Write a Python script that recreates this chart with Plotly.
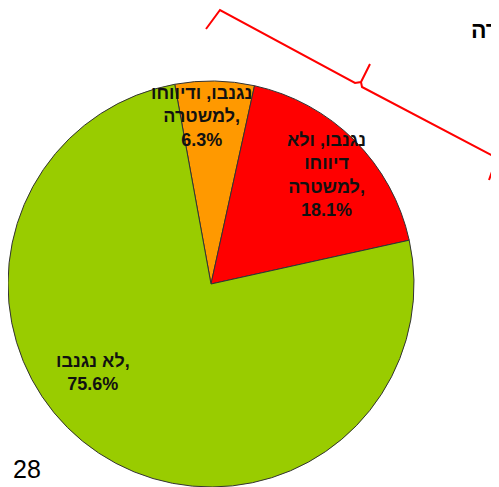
import plotly.graph_objects as go

# ---- data ----
labels = ["נגנבו, ודיווחו למשטרה", "נגנבו, ולא דיווחו למשטרה", "לא נגנבו"]
values = [6.3, 18.1, 75.6]
colors = ["#FF9900", "#FF0000", "#99CC00"]
label_lines = [
    ["נגנבו, ודיווחו", "למשטרה,", "6.3%"],
    ["נגנבו, ולא", "דיווחו", "למשטרה,", "18.1%"],
    ["לא נגנבו,", "75.6%"],
]
title_fragment = "רה"
page_number = "28"

# ---- layout helpers ----
# page body has an 8px margin; positions below are given in page pixels
OFF = 8
W, H = 499 - OFF, 487 - OFF
def px(x, y):
    return (x - OFF) / W, 1 - (y - OFF) / H

label_pos = [(201, 117), (326, 175), (93, 372)]

R = 203
fig = go.Figure(go.Pie(
    labels=labels,
    values=values,
    sort=False,
    direction="clockwise",
    rotation=-10.3,
    marker=dict(colors=colors, line=dict(color="#333333", width=1)),
    textinfo="none",
    hoverinfo="label+percent",
    showlegend=False,
    domain=dict(x=[0, 2 * R / W], y=[0, 2 * R / H]),
))

annotations = []
for lines, (x, y) in zip(label_lines, label_pos):
    ax, ay = px(x, y)
    annotations.append(dict(
        x=ax, y=ay, xref="paper", yref="paper",
        text="<br>".join("<b>" + l + "</b>" for l in lines),
        showarrow=False, xanchor="center", yanchor="middle", align="center",
        font=dict(family="Liberation Sans, Arial, DejaVu Sans", size=18, color="#111111"),
    ))

tx, ty = px(469, 30)
annotations.append(dict(
    x=tx, y=ty, xref="paper", yref="paper", text="<b>" + title_fragment + "</b>",
    showarrow=False, xanchor="left", yanchor="middle",
    font=dict(family="Liberation Sans, Arial", size=23, color="#000000"),
))
nx, ny = px(11, 469)
annotations.append(dict(
    x=nx, y=ny, xref="paper", yref="paper", text=page_number,
    showarrow=False, xanchor="left", yanchor="middle",
    font=dict(family="Liberation Sans, Arial", size=25, color="#000000"),
))

# curly bracket (page pixels)
pts1 = [(206, 29), (220, 10), (355, 83), (361, 82), (370, 64)]
pts2 = [(361, 82), (362, 87), (497, 158), (489, 180)]
def path(pts):
    s = ""
    for i, (x, y) in enumerate(pts):
        X, Y = px(x, y)
        s += ("M" if i == 0 else "L") + f"{X:.5f},{Y:.5f} "
    return s

fig.update_layout(
    shapes=[dict(type="path", xref="paper", yref="paper", path=path(pts1) + path(pts2),
                 line=dict(color="#FF0000", width=2))],
    annotations=annotations,
    width=W, height=H,
    margin=dict(l=0, r=0, t=0, b=0),
    paper_bgcolor="white", plot_bgcolor="white",
)

fig.write_html("out.html")
